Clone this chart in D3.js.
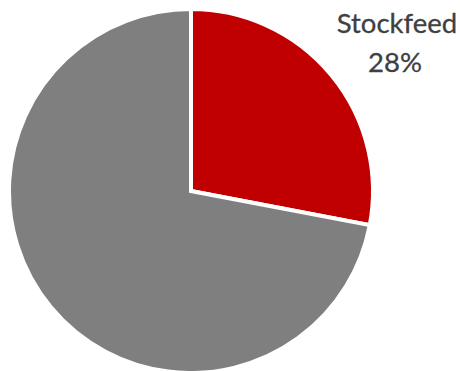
<!DOCTYPE html>
<html>
<head>
<meta charset="utf-8">
<script src="https://cdn.jsdelivr.net/npm/d3@7"></script>
<style>
  html, body { margin: 0; padding: 0; background: #fff; }
  svg { display: block; }
</style>
</head>
<body>
<svg id="chart" width="460" height="371"></svg>
<script>
// Share of use, in percent
const categories = ["Stockfeed", "Other"];
const shares = [28, 72];
const colors = ["#c00000", "#7f7f7f"];
const labelShown = [true, false];

const width = 460, height = 371;
const cx = 191, cy = 191, radius = 182;

const svg = d3.select("#chart");
const g = svg.append("g").attr("transform", `translate(${cx},${cy})`);

const pie = d3.pie().sort(null).value(d => d.value);
const arc = d3.arc().innerRadius(0).outerRadius(radius);

const data = categories.map((c, i) => ({ name: c, value: shares[i], color: colors[i], show: labelShown[i] }));
const arcs = pie(data);

g.selectAll("path")
  .data(arcs)
  .join("path")
  .attr("d", arc)
  .attr("fill", d => d.data.color)
  .attr("stroke", "#fff")
  .attr("stroke-width", 4)
  .attr("stroke-linejoin", "miter");

// Label for the highlighted slice, placed outside the pie at top right
const lbl = svg.append("text")
  .attr("text-anchor", "middle")
  .attr("fill", "#404040")
  .attr("stroke", "#404040")
  .attr("stroke-width", 0.3)
  .style("font-family", "'Century Gothic', 'Lato', sans-serif")
  .style("font-size", "27.5px");

arcs.filter(d => d.data.show).forEach(d => {
  lbl.append("tspan").attr("x", 397).attr("y", 33).text(d.data.name);
  lbl.append("tspan").attr("x", 395).attr("y", 72).text(d3.format(".0f")(d.data.value) + "%");
});
</script>
</body>
</html>
